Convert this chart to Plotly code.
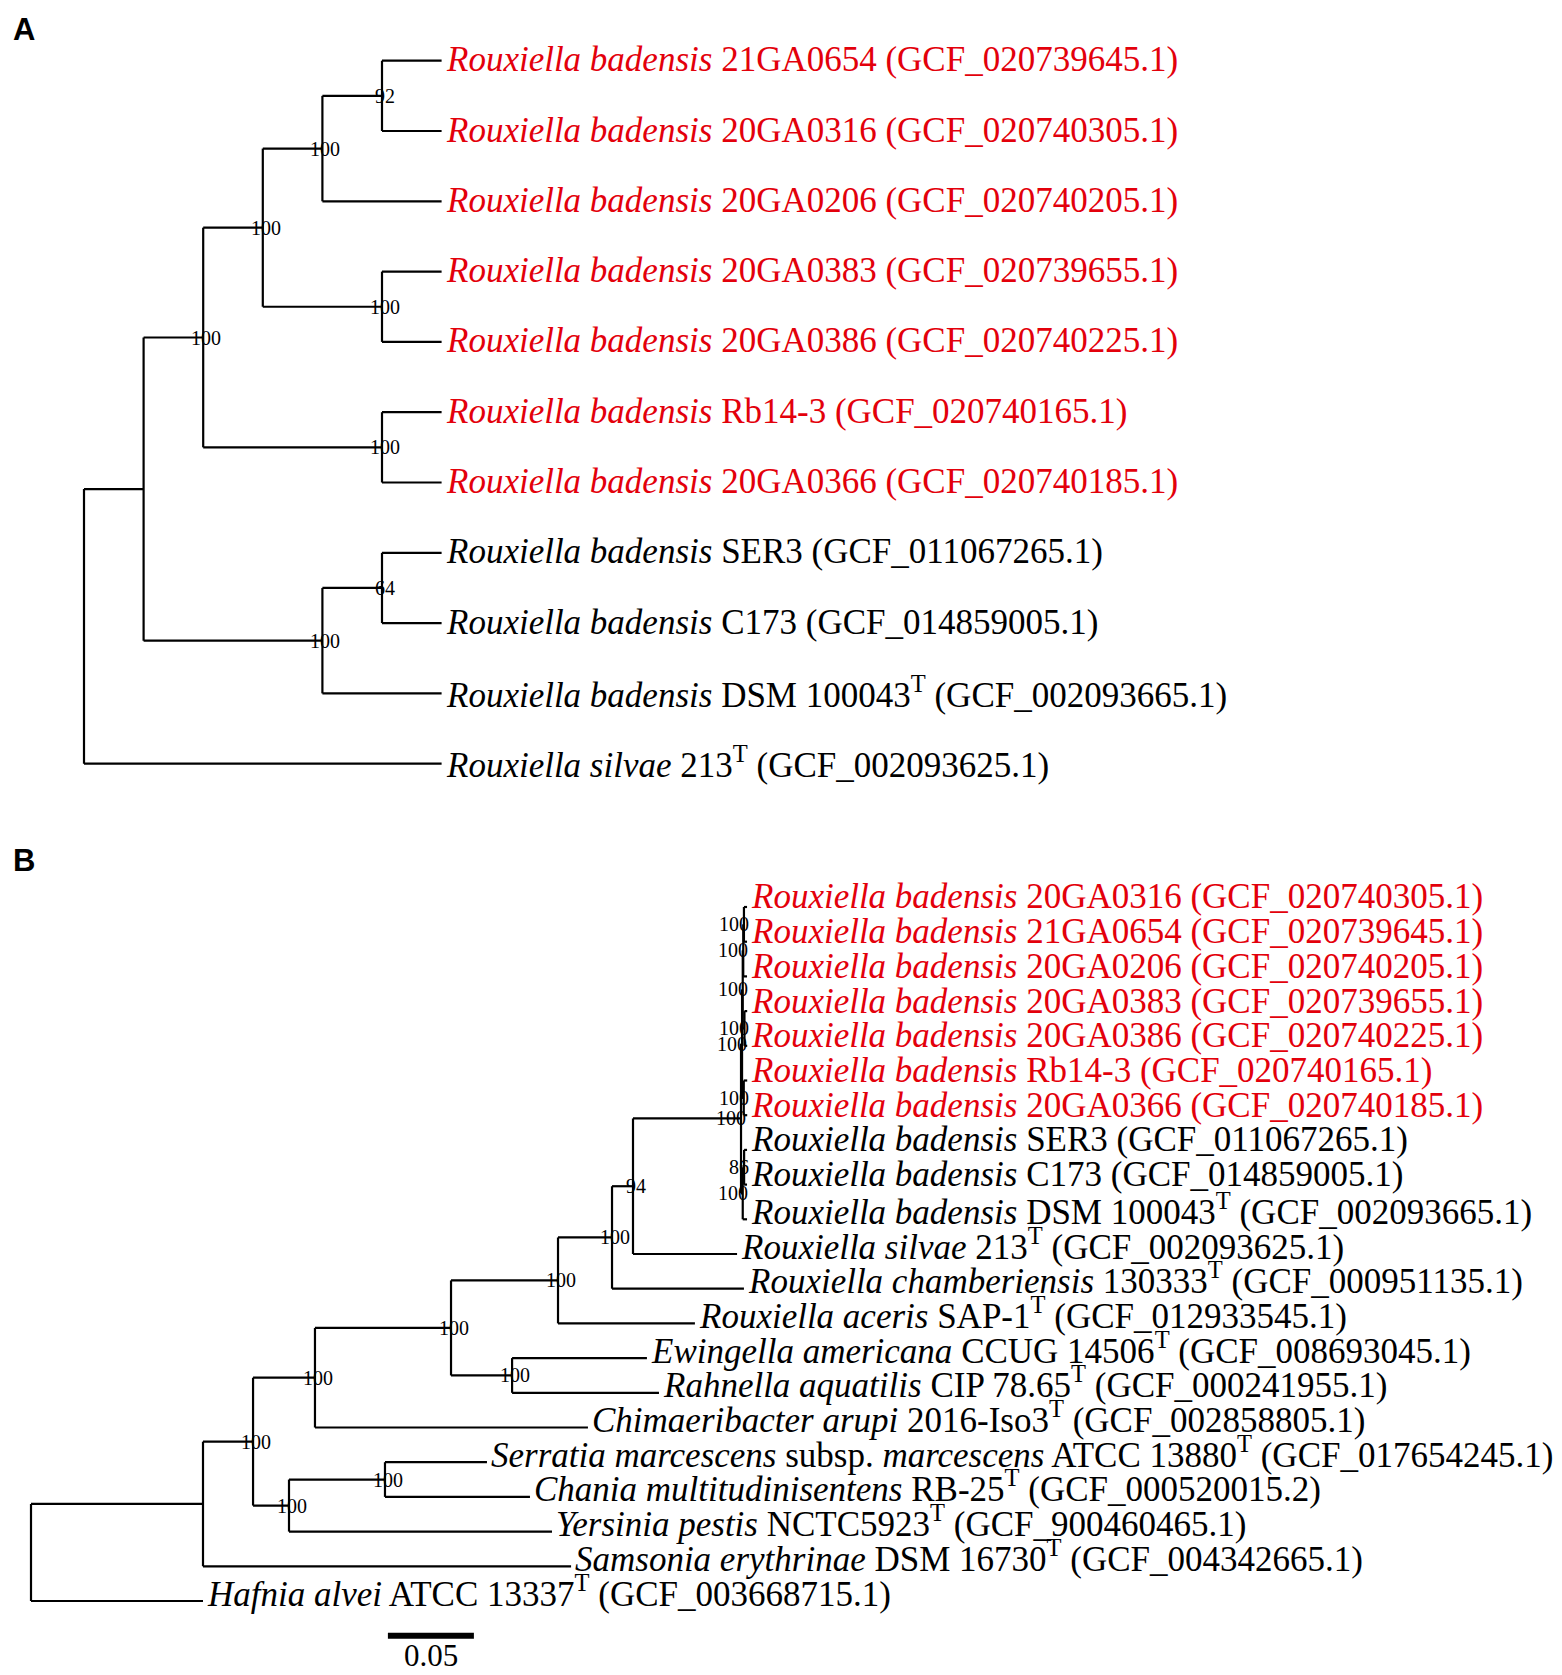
import plotly.graph_objects as go

# ---------------- panel A : tree of the Rouxiella badensis genomes (topology only)
A_LEAF = ["21GA0654", "20GA0316", "20GA0206", "20GA0383", "20GA0386", "Rb14-3",
          "20GA0366", "SER3", "C173", "DSM 100043", "213"]
A_SPECIES = ["Rouxiella badensis"] * 10 + ["Rouxiella silvae"]
A_ACCESSION = ["GCF_020739645.1", "GCF_020740305.1", "GCF_020740205.1", "GCF_020739655.1",
               "GCF_020740225.1", "GCF_020740165.1", "GCF_020740185.1", "GCF_011067265.1",
               "GCF_014859005.1", "GCF_002093665.1", "GCF_002093625.1"]
A_TYPE = [0, 0, 0, 0, 0, 0, 0, 0, 0, 1, 1]
A_NEW = [1, 1, 1, 1, 1, 1, 1, 0, 0, 0, 0]

A_CHILD = ["n1", "n2", "n4", "n6", "n8", "21GA0654", "20GA0316", "20GA0206", "n7",
           "20GA0383", "20GA0386", "n5", "Rb14-3", "20GA0366", "n3", "n9", "SER3",
           "C173", "DSM 100043", "213"]
A_PARENT = ["root", "n1", "n2", "n4", "n6", "n8", "n8", "n6", "n4",
            "n7", "n7", "n2", "n5", "n5", "n1", "n3", "n9",
            "n9", "n3", "root"]
A_SUPPORT_NODE = ["n8", "n6", "n4", "n7", "n2", "n5", "n9", "n3"]
A_SUPPORT = [92, 100, 100, 100, 100, 100, 64, 100]

# ---------------- panel B : tree with related genera (branch lengths)
B_LEAF = ["20GA0316", "21GA0654", "20GA0206", "20GA0383", "20GA0386", "Rb14-3", "20GA0366",
          "SER3", "C173", "DSM 100043", "213", "130333", "SAP-1", "CCUG 14506", "CIP 78.65",
          "2016-Iso3", "ATCC 13880", "RB-25", "NCTC5923", "DSM 16730", "ATCC 13337"]
B_SPECIES = ["Rouxiella badensis"] * 10 + [
    "Rouxiella silvae", "Rouxiella chamberiensis", "Rouxiella aceris", "Ewingella americana",
    "Rahnella aquatilis", "Chimaeribacter arupi", "Serratia marcescens subsp. marcescens",
    "Chania multitudinisentens", "Yersinia pestis", "Samsonia erythrinae", "Hafnia alvei"]
B_ACCESSION = ["GCF_020740305.1", "GCF_020739645.1", "GCF_020740205.1", "GCF_020739655.1",
               "GCF_020740225.1", "GCF_020740165.1", "GCF_020740185.1", "GCF_011067265.1",
               "GCF_014859005.1", "GCF_002093665.1", "GCF_002093625.1", "GCF_000951135.1",
               "GCF_012933545.1", "GCF_008693045.1", "GCF_000241955.1", "GCF_002858805.1",
               "GCF_017654245.1", "GCF_000520015.2", "GCF_900460465.1", "GCF_004342665.1",
               "GCF_003668715.1"]
B_TYPE = [0] * 9 + [1] * 12
B_NEW = [1] * 7 + [0] * 14

B_CHILD = ["x1", "ATCC 13337", "x2", "DSM 16730", "x3", "x4", "x6", "2016-Iso3", "x7", "x8",
           "x9", "SAP-1", "x10", "130333", "c1", "213",
           "c2", "c3", "c4", "c5", "c6", "c7", "c8", "20GA0206", "20GA0316", "21GA0654",
           "20GA0383", "20GA0386", "Rb14-3", "20GA0366", "c9", "DSM 100043", "SER3", "C173",
           "CCUG 14506", "CIP 78.65", "x5", "NCTC5923", "ATCC 13880", "RB-25"]
B_PARENT = ["root", "root", "x1", "x1", "x2", "x2", "x3", "x3", "x6", "x6",
            "x7", "x7", "x9", "x9", "x10", "x10",
            "c1", "c1", "c2", "c2", "c4", "c4", "c6", "c6", "c8", "c8",
            "c7", "c7", "c5", "c5", "c3", "c3", "c9", "c9",
            "x8", "x8", "x4", "x4", "x5", "x5"]
B_LENGTH = [0.1000, 0.1000, 0.0291, 0.2140, 0.0360, 0.0209, 0.0791, 0.1587, 0.0622, 0.0355,
            0.0314, 0.0796, 0.0122, 0.0767, 0.0628, 0.0605,
            0.0006, 0.0010, 0.0004, 0.0010, 0.0003, 0.0010, 0.0004, 0.0022, 0.0018, 0.0018,
            0.0016, 0.0016, 0.0020, 0.0020, 0.0008, 0.0025, 0.0017, 0.0017,
            0.0784, 0.0854, 0.0558, 0.1529, 0.0593, 0.0843]
B_SUPPORT_NODE = ["x2", "x3", "x4", "x5", "x6", "x7", "x8", "x9", "x10", "c1",
                  "c2", "c3", "c4", "c5", "c6", "c7", "c8", "c9"]
B_SUPPORT = [100, 100, 100, 100, 100, 100, 100, 100, 94, 100,
             100, 100, 100, 100, 100, 100, 100, 86]
SCALE_LEN = 0.05

RED = "#e3000b"
SERIF = "Liberation Serif"


def children_of(child, parent):
    kids = {}
    for c, p in zip(child, parent):
        kids.setdefault(p, []).append(c)
    return kids


def layout_tree(child, parent, lengths=None):
    kids = children_of(child, parent)
    blen = dict(zip(child, lengths)) if lengths else {}
    x, y, order = {"root": 0.0}, {}, []

    def height(n):
        return 0 if n not in kids else 1 + max(height(k) for k in kids[n])

    top = height("root")

    def walk(n):
        if n != "root":
            x[n] = x[parent[child.index(n)]] + blen[n] if lengths else top - height(n)
        if n not in kids:
            y[n] = len(order)
            order.append(n)
            return
        for k in kids[n]:
            walk(k)
        y[n] = (y[kids[n][0]] + y[kids[n][-1]]) / 2

    walk("root")
    return kids, x, y, order


def branch_xy(kids, x, y):
    xs, ys = [], []
    for n, ks in kids.items():
        xs += [x[n], x[n], None]
        ys += [y[ks[0]], y[ks[-1]], None]
        for k in ks:
            xs += [x[n], x[k], None]
            ys += [y[k], y[k], None]
    return xs, ys


def label(species, strain, acc, is_type):
    parts = species.split(" subsp. ")
    name = " subsp. ".join("<i>%s</i>" % p for p in parts)
    sup = "<sup>T</sup>" if is_type else ""
    return "%s %s%s (%s)" % (name, strain, sup, acc)


fig = go.Figure()
annotations = []

# pixel geometry of the page
W, H = 1562, 1675
SPLIT = 820
A_X0, A_STEP, A_Y0, A_DY = 84, 59.6, 60.7, 70.3
B_X0, B_PX, B_Y0, B_DY = 31, 1720, 907, 34.7

for tag, child, parent, lengths, snode, sval, leaves, species, acc, typ, new in [
    ("A", A_CHILD, A_PARENT, None, A_SUPPORT_NODE, A_SUPPORT, A_LEAF, A_SPECIES, A_ACCESSION, A_TYPE, A_NEW),
    ("B", B_CHILD, B_PARENT, B_LENGTH, B_SUPPORT_NODE, B_SUPPORT, B_LEAF, B_SPECIES, B_ACCESSION, B_TYPE, B_NEW),
]:
    kids, x, y, order = layout_tree(child, parent, lengths)
    xs, ys = branch_xy(kids, x, y)
    xa, ya = ("x", "y") if tag == "A" else ("x2", "y2")
    px_per_x = A_STEP if tag == "A" else B_PX
    fig.add_trace(go.Scatter(x=xs, y=ys, mode="lines", xaxis=xa, yaxis=ya,
                             line=dict(color="black", width=2.2), hoverinfo="skip",
                             showlegend=False))
    for i, leaf in enumerate(leaves):
        annotations.append(dict(
            x=x[leaf], y=y[leaf], xref=xa, yref=ya, xanchor="left", yanchor="middle",
            text=label(species[i], leaf, acc[i], typ[i]), showarrow=False,
            xshift=2, yshift=1 if tag == "A" else 10,
            font=dict(family=SERIF, size=35, color=RED if new[i] else "black")))
    for n, v in zip(snode, sval):
        span = (max(x[k] for k in kids[n]) - x[n]) * px_per_x
        tight = span < 20
        annotations.append(dict(
            x=x[n], y=y[n], xref=xa, yref=ya, text=str(v), showarrow=False,
            xanchor="right" if tight else "center", yanchor="middle",
            xshift=7 if tight else 3,
            font=dict(family=SERIF, size=20, color="black")))

# scale bar for panel B
bar_x = 0.2075
bar_y = len(B_LEAF)
fig.add_trace(go.Scatter(x=[bar_x, bar_x + SCALE_LEN], y=[bar_y, bar_y], mode="lines",
                         xaxis="x2", yaxis="y2", line=dict(color="black", width=6),
                         hoverinfo="skip", showlegend=False))
annotations.append(dict(x=bar_x + SCALE_LEN / 2, y=0, xref="x2", yref="paper",
                        text=str(SCALE_LEN), showarrow=False, yanchor="bottom",
                        font=dict(family=SERIF, size=31, color="black")))

for letter, ypx in [("A", 30), ("B", 861)]:
    annotations.append(dict(x=24 / W, y=1 - ypx / H, xref="paper", yref="paper",
                            text="<b>%s</b>" % letter, showarrow=False,
                            xanchor="center", yanchor="middle",
                            font=dict(family="Liberation Sans", size=31, color="black")))

hidden = dict(visible=False, showgrid=False, zeroline=False, fixedrange=True)
top_dom = 1 - SPLIT / H
fig.update_layout(
    width=W, height=H, autosize=False,
    margin=dict(l=0, r=0, t=0, b=0, pad=0),
    paper_bgcolor="white", plot_bgcolor="white",
    xaxis=dict(hidden, domain=[0, 1], range=[-A_X0 / A_STEP, (W - A_X0) / A_STEP]),
    yaxis=dict(hidden, domain=[top_dom, 1], anchor="x",
               range=[(SPLIT - A_Y0) / A_DY, -A_Y0 / A_DY]),
    xaxis2=dict(hidden, domain=[0, 1], anchor="y2", range=[-B_X0 / B_PX, (W - B_X0) / B_PX]),
    yaxis2=dict(hidden, domain=[0, top_dom], anchor="x2",
                range=[(H - B_Y0) / B_DY, (SPLIT - B_Y0) / B_DY]),
    annotations=annotations,
)

fig.write_html("out.html", config={"displayModeBar": False},
               post_script="document.body.style.margin='0';")
